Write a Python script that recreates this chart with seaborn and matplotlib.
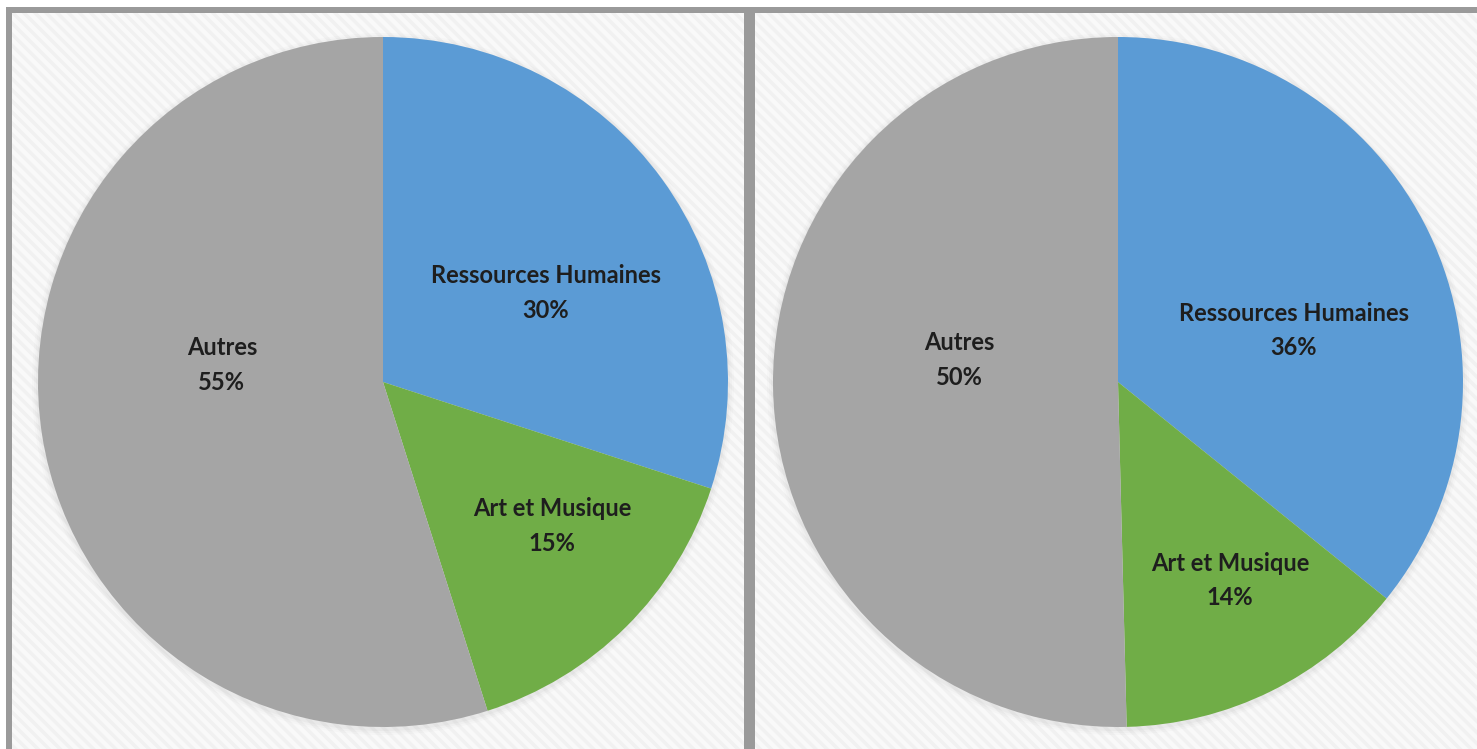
import matplotlib
matplotlib.use("Agg")
import matplotlib.pyplot as plt
from matplotlib.patches import Rectangle
import seaborn as sns

# ---- data ----
categories = ["Ressources Humaines", "Art et Musique", "Autres"]
values_left = [30.0, 15.1, 54.9]
values_right = [35.8, 13.8, 50.4]
colors = ["#5B9BD5", "#70AD47", "#A5A5A5"]

# ---- layout (pixel-based) ----
W, H = 1477, 749
sns.set_theme(style="white")
plt.rcParams['font.family'] = ['Lato', 'DejaVu Sans']
plt.rcParams['hatch.linewidth'] = 2.5

fig = plt.figure(figsize=(W / 100, H / 100), dpi=100)
fig.patch.set_facecolor("white")

# label offsets relative to pie centre, in units of radius
label_pos_left = [(0.472, 0.258), (0.49, -0.417), (-0.467, 0.049)]
label_pos_right = [(0.51, 0.15), (0.325, -0.575), (-0.46, 0.064)]

panels = [
    (12, 744, 383, values_left, label_pos_left),
    (755, 1477, 1118, values_right, label_pos_right),
]
cy_img = 382
radius = 345
top_img = 13

for x0, x1, cx, vals, lpos in panels:
    ax = fig.add_axes([x0 / W, 0, (x1 - x0) / W, (H - top_img) / H])
    ax.set_axis_off()
    ax.add_patch(Rectangle((x0, 0), x1 - x0, H - top_img, facecolor="#f9f9f9",
                           edgecolor="none", zorder=0))
    ax.add_patch(Rectangle((x0, 0), x1 - x0, H - top_img, facecolor="none",
                           edgecolor="#f1f1f1", hatch="\\\\\\", linewidth=0, zorder=0.5))
    cy = H - cy_img
    for i, a in enumerate([0.05, 0.04, 0.03]):
        sh = plt.Circle((cx, cy - 2), radius + 2 + i * 2, color="#808080", alpha=a,
                        zorder=1, linewidth=0)
        ax.add_patch(sh)
    wedges, _ = ax.pie(vals, colors=colors, startangle=90, counterclock=False,
                       center=(cx, cy), radius=radius,
                       wedgeprops=dict(linewidth=0), frame=True)
    for w in wedges:
        w.set_zorder(2)
    ax.set_xlim(x0, x1)
    ax.set_ylim(0, H - top_img)
    ax.set_aspect("auto")
    ax.set_axis_off()
    for cat, v, (dx, dy) in zip(categories, vals, lpos):
        ax.text(cx + dx * radius, cy + dy * radius, f"{cat}\n{v:.0f}%",
                ha="center", va="center", fontsize=17, fontweight="bold",
                color="#1e1e1e", linespacing=1.6, zorder=3)

border = "#9a9a9a"
fig.patches.append(Rectangle((6 / W, (H - 13) / H), (W - 6) / W, 6 / H,
                             transform=fig.transFigure, facecolor=border,
                             edgecolor="none", zorder=5))
fig.patches.append(Rectangle((6 / W, 0), 6 / W, (H - 7) / H,
                             transform=fig.transFigure, facecolor=border,
                             edgecolor="none", zorder=5))
fig.patches.append(Rectangle((744 / W, 0), 11 / W, (H - 7) / H,
                             transform=fig.transFigure, facecolor=border,
                             edgecolor="none", zorder=5))

fig.savefig("out.png", dpi=100)
